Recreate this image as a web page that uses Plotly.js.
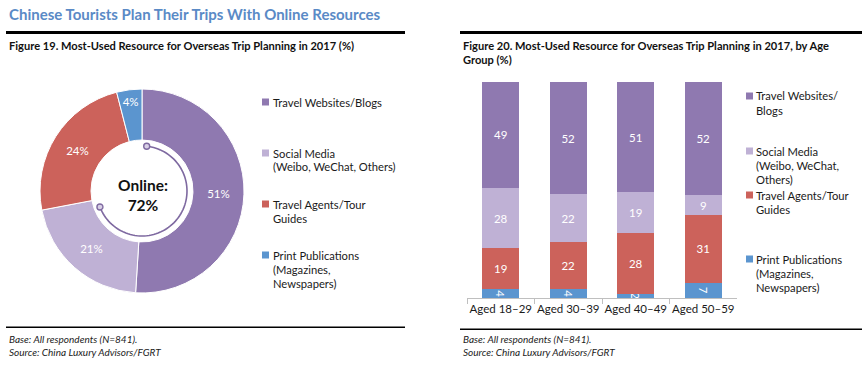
<!DOCTYPE html>
<html><head><meta charset="utf-8">
<script src="https://cdn.plot.ly/plotly-3.0.1.min.js"></script>
<style>html,body{margin:0;padding:0;background:#fff;}#chart{width:865px;height:367px;}</style>
</head><body><div id="chart"></div>
<script>
// ---- data ----
const pieLabels = ["Travel Websites/Blogs", "Social Media (Weibo, WeChat, Others)", "Travel Agents/Tour Guides", "Print Publications (Magazines, Newspapers)"];
const pieValues = [51, 21, 24, 4];
const onlineShare = 72;

const ageGroups = ["Aged 18–29", "Aged 30–39", "Aged 40–49", "Aged 50–59"];
const websites = [49, 52, 51, 52];
const social = [28, 22, 19, 9];
const agents = [19, 22, 28, 31];
const print = [4, 4, 2, 7];

const pieLegendLines = [["Travel Websites/Blogs"], ["Social Media", "(Weibo, WeChat, Others)"], ["Travel Agents/Tour", "Guides"], ["Print Publications", "(Magazines,", "Newspapers)"]];
const barLegendLines = [["Travel Websites/", "Blogs"], ["Social Media", "(Weibo, WeChat,", "Others)"], ["Travel Agents/Tour", "Guides"], ["Print Publications", "(Magazines,", "Newspapers)"]];

// ---- style ----
const W = 865, H = 367;
const colors = ["#8F79B0", "#BFB1D5", "#CC625B", "#5B95CF"];
const FONT = "Lato, 'Open Sans', sans-serif";
const px = x => x / W;
const py = y => 1 - y / H;

const cx = 142, cy = 191, R = 102;

const traces = [];
traces.push({
  type: 'pie', values: pieValues, labels: pieLabels, hole: 0.5, sort: false,
  direction: 'clockwise', rotation: 0,
  marker: {colors: colors, line: {color: '#ffffff', width: 1}},
  textinfo: 'none', texttemplate: '%{value}%', textposition: 'inside',
  insidetextorientation: 'horizontal',
  textfont: {color: '#ffffff', size: 11.5, family: FONT},
  domain: {x: [px(cx - R), px(cx + R)], y: [py(cy + R), py(cy - R)]},
  showlegend: false, hoverinfo: 'label+percent'
});

const barSeries = [[print, colors[3]], [agents, colors[2]], [social, colors[1]], [websites, colors[0]]];
const barNames = [pieLabels[3], pieLabels[2], pieLabels[1], pieLabels[0]];
barSeries.forEach((s, i) => {
  traces.push({
    type: 'bar', x: ageGroups, y: s[0], name: barNames[i],
    marker: {color: s[1], line: {width: 0}},
    text: s[0].map(String), textposition: 'inside', insidetextanchor: 'middle',
    constraintext: 'none', cliponaxis: false,
    textfont: {color: '#ffffff', size: 11.5, family: FONT},
    showlegend: false, xaxis: 'x', yaxis: 'y'
  });
});

const shapes = [];
const annotations = [];

// thick rules
shapes.push({type: 'rect', xref: 'paper', yref: 'paper', x0: px(6), x1: px(405), y0: py(34), y1: py(31), fillcolor: '#000', line: {width: 0}});
shapes.push({type: 'rect', xref: 'paper', yref: 'paper', x0: px(460), x1: px(862), y0: py(34), y1: py(31), fillcolor: '#000', line: {width: 0}});
shapes.push({type: 'rect', xref: 'paper', yref: 'paper', x0: px(6), x1: px(405), y0: py(328), y1: py(326.5), fillcolor: '#000', line: {width: 0}});
shapes.push({type: 'rect', xref: 'paper', yref: 'paper', x0: px(460), x1: px(862), y0: py(330), y1: py(328.5), fillcolor: '#000', line: {width: 0}});

// arc inside the donut showing online share
const ar = 45;
const a0 = 6, a1 = onlineShare / 100 * 360 - 10;
let path = '';
for (let a = a0; a <= a1 + 0.01; a += 3) {
  const t = a * Math.PI / 180;
  const x = cx + ar * Math.sin(t), y = cy - ar * Math.cos(t);
  path += (path ? ' L ' : 'M ') + px(x).toFixed(5) + ',' + py(y).toFixed(5);
}
shapes.push({type: 'path', xref: 'paper', yref: 'paper', path: path, line: {color: '#7E69A0', width: 1.6}});
[a0, a1].forEach(a => {
  const t = a * Math.PI / 180;
  const x = cx + ar * Math.sin(t), y = cy - ar * Math.cos(t);
  shapes.push({type: 'circle', xref: 'paper', yref: 'paper', x0: px(x - 3), x1: px(x + 3), y0: py(y + 3), y1: py(y - 3), fillcolor: '#D9D0E6', line: {color: '#7E69A0', width: 1.4}});
});

annotations.push({xref: 'paper', yref: 'paper', x: px(143), y: py(195), xanchor: 'center', yanchor: 'middle', showarrow: false,
  text: '<b>Online:</b><br><b>' + onlineShare + '%</b>', font: {family: FONT, size: 15.5, color: '#111'}});

// titles
annotations.push({xref: 'paper', yref: 'paper', x: px(7), y: py(14), xanchor: 'left', yanchor: 'middle', showarrow: false,
  text: '<b>Chinese Tourists Plan Their Trips With Online Resources</b>', font: {family: FONT, size: 15, color: '#5A8AC6'}});
annotations.push({xref: 'paper', yref: 'paper', x: px(7), y: py(45), xanchor: 'left', yanchor: 'middle', showarrow: false,
  text: '<b>Figure 19. Most-Used Resource for Overseas Trip Planning in 2017 (%)</b>', font: {family: FONT, size: 11.1, color: '#111'}});
annotations.push({xref: 'paper', yref: 'paper', x: px(461), y: py(45), xanchor: 'left', yanchor: 'middle', showarrow: false,
  text: '<b>Figure 20. Most-Used Resource for Overseas Trip Planning in 2017, by Age</b>', font: {family: FONT, size: 11.1, color: '#111'}});
annotations.push({xref: 'paper', yref: 'paper', x: px(461), y: py(59), xanchor: 'left', yanchor: 'middle', showarrow: false,
  text: '<b>Group (%)</b>', font: {family: FONT, size: 11.1, color: '#111'}});

// footnotes
[[7, 339, 'Base: All respondents (N=841).'], [7, 352, 'Source: China Luxury Advisors/FGRT'],
 [461, 339, 'Base: All respondents (N=841).'], [461, 352, 'Source: China Luxury Advisors/FGRT']].forEach(f => {
  annotations.push({xref: 'paper', yref: 'paper', x: px(f[0]), y: py(f[1]), xanchor: 'left', yanchor: 'middle', showarrow: false,
    text: '<i>' + f[2] + '</i>', font: {family: FONT, size: 10, color: '#222'}});
});

// legends
function legend(lines, sqX, txtX, ys, size) {
  lines.forEach((item, i) => {
    const y0 = ys[i];
    shapes.push({type: 'rect', xref: 'paper', yref: 'paper', x0: px(sqX), x1: px(sqX + 7), y0: py(y0 + 3.5), y1: py(y0 - 3.5), fillcolor: colors[i], line: {width: 0}});
    item.forEach((t, j) => {
      annotations.push({xref: 'paper', yref: 'paper', x: px(txtX), y: py(y0 + j * 14), xanchor: 'left', yanchor: 'middle', showarrow: false,
        text: t, font: {family: FONT, size: size, color: '#1a1a1a'}});
    });
  });
}
legend(pieLegendLines, 262, 271, [102, 153, 204, 255], 11.2);
legend(barLegendLines, 746, 754, [96, 151, 195, 259], 11.2);

const layout = {
  width: W, height: H, margin: {l: 0, r: 0, t: 0, b: 0},
  paper_bgcolor: '#ffffff', plot_bgcolor: '#ffffff',
  font: {family: FONT, color: '#1a1a1a'},
  barmode: 'stack', barnorm: 'percent', bargap: 0.45,
  xaxis: {domain: [px(467), px(737)], showline: true, linecolor: '#BFBFBF', linewidth: 1,
    ticks: 'outside', tickson: 'boundaries', ticklen: 5, tickcolor: '#BFBFBF',
    tickangle: 0, automargin: false,
    showgrid: false, zeroline: false, fixedrange: true,
    tickfont: {family: FONT, size: 11.5, color: '#1a1a1a'}},
  yaxis: {domain: [py(298), py(82)], range: [0, 100], visible: false, fixedrange: true},
  shapes: shapes, annotations: annotations, showlegend: false
};

Plotly.newPlot('chart', traces, layout, {displayModeBar: false, staticPlot: true});
</script></body></html>
